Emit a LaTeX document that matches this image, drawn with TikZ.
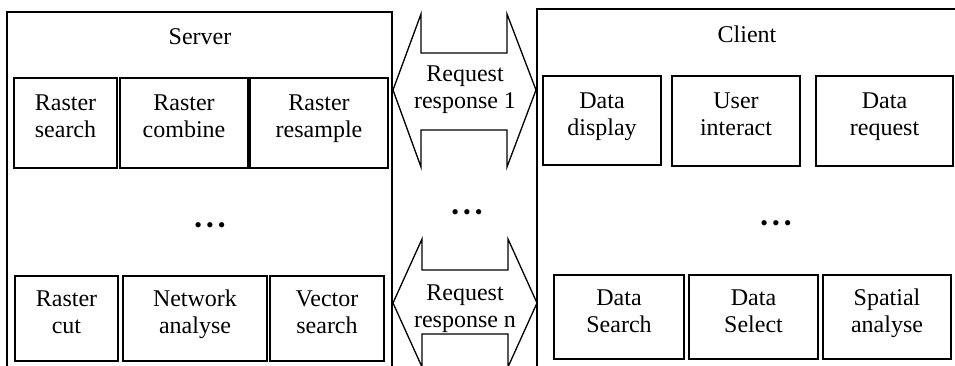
\documentclass[tikz,border=0pt]{standalone}
\usepackage{fontspec}
\setmainfont{Liberation Serif}
\newcommand{\twolines}[2]{\begin{tabular}[t]{@{}c@{}}#1\\#2\end{tabular}}
\newcommand{\threedots}{•\hspace{4pt}•\hspace{4pt}•}
\begin{document}
\begin{tikzpicture}[x=1pt,y=-1pt,
  frame/.style={line width=1.3pt},
  unit/.style={draw,line width=2pt,inner sep=0pt,
    font=\fontsize{24}{27}\selectfont,text height=16pt,text depth=40pt},
  flow/.style={draw,line width=1.3pt,line join=miter},
  lbl/.style={font=\fontsize{24}{27}\selectfont,inner sep=0pt,anchor=base},
  dots/.style={font=\fontsize{22}{22}\selectfont,inner sep=0pt,anchor=base}]
\useasboundingbox (0,0) rectangle (955,366);

% outer frames, open at the bottom
\draw[frame] (7,370) -- (7,12) -- (392,12) -- (392,370);
\draw[frame] (537,370) -- (537,9) -- (958,9);
\node[lbl] (srv) at (200,45) {Server};
\node[lbl] (cli) at (747,43) {Client};

% unit boxes: name, left, top, right, bottom, first line, second line
\newcommand{\unitbox}[7]{%
  \node[unit,minimum width={#4-#2},minimum height={#5-#3}]
    (#1) at ({(#2+#4)/2},{(#3+#5)/2}) {\twolines{#6}{#7}};}

\unitbox{rs}{14}{78}{117}{168}{Raster}{search}
\unitbox{rc}{120}{78}{248}{168}{Raster}{combine}
\unitbox{rr}{250}{78}{388}{168}{Raster}{resample}
\unitbox{rcut}{15}{276}{118}{361}{Raster}{cut}
\unitbox{na}{123}{276}{267}{361}{Network}{analyse}
\unitbox{vs}{270}{276}{384}{361}{Vector}{search}

\unitbox{dd}{543}{76}{661}{165}{Data}{display}
\unitbox{ui}{672}{76}{800}{166}{User}{interact}
\unitbox{dr}{816}{76}{953}{166}{Data}{request}
\unitbox{dsr}{554}{275}{684}{359}{Data}{Search}
\unitbox{dsl}{689}{275}{818}{359}{Data}{Select}
\unitbox{sa}{823}{275}{951}{359}{Spatial}{analyse}

\node[dots] (sdots) at (210,232) {\threedots};
\node[dots] (cdots) at (776,230) {\threedots};
\node[dots] (mdots) at (467,219) {\threedots};

% request/response double arrows between the frames
\draw[flow] (393,90) -- (421,14) -- (421,53) -- (507,53) -- (507,14)
  -- (536,90) -- (507,167) -- (507,130) -- (421,130) -- (421,167) -- cycle;
\node[lbl] (rr1) at (465,82) {\twolines{Request}{response 1}};

\draw[flow] (393,303) -- (422,239) -- (422,270) -- (508,270) -- (508,239)
  -- (537,303) -- (508,367) -- (508,334) -- (422,334) -- (422,367) -- cycle;
\node[lbl] (rrn) at (465,300) {\twolines{Request}{response n}};
\end{tikzpicture}
\end{document}
